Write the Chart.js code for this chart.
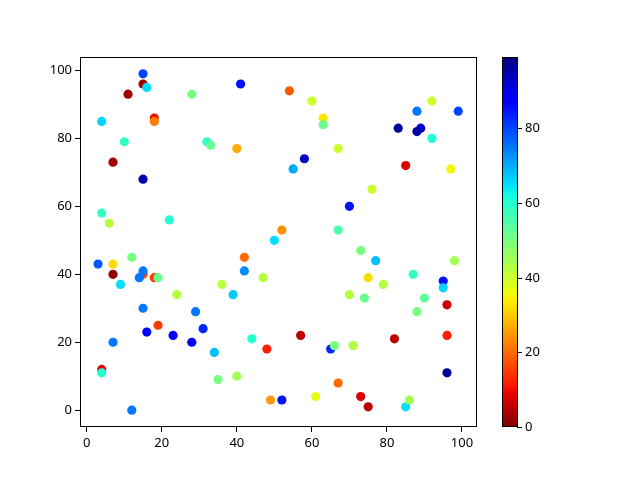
<!DOCTYPE html>
<html>
<head>
<meta charset="utf-8">
<script src="https://cdn.jsdelivr.net/npm/chart.js@4"></script>
<style>
  body { margin: 0; background: #fff; }
</style>
</head>
<body>
<canvas id="scatter-canvas" width="640" height="480"></canvas>
<script>
// values
const xs = [15, 15, 16, 11, 28, 4, 18, 18, 10, 32, 33, 7, 15, 4, 6, 22,
  41, 54, 60, 63, 63, 40, 67, 58, 55, 52, 67, 50,
  92, 88, 99, 83, 89, 88, 92, 85, 97, 76, 70,
  3, 7, 12, 7, 9, 15, 15, 14, 18, 19, 24, 15, 29, 19, 16, 23, 31, 28, 7, 34, 4, 4, 35, 12,
  42, 42, 36, 47, 39, 44, 48, 57, 65, 66, 40, 67, 49, 52, 61,
  73, 77, 98, 87, 75, 79, 70, 74, 95, 95, 90, 88, 96, 82, 96, 71, 96, 73, 75, 85, 86]
const ys = [99, 96, 95, 93, 93, 85, 86, 85, 79, 79, 78, 73, 68, 58, 55, 56,
  96, 94, 91, 86, 84, 77, 77, 74, 71, 53, 53, 50,
  91, 88, 88, 83, 83, 82, 80, 72, 71, 65, 60,
  43, 43, 45, 40, 37, 40, 41, 39, 39, 39, 34, 30, 29, 25, 23, 22, 24, 20, 20, 17, 12, 11, 9, 0,
  45, 41, 37, 39, 34, 21, 18, 22, 18, 19, 10, 8, 3, 3, 4,
  47, 44, 44, 40, 39, 37, 34, 33, 38, 36, 33, 29, 31, 21, 22, 19, 11, 4, 1, 1, 3]
const cs = [80, 3, 65, 3, 50, 66, 10, 22, 58, 58, 52, 3, 95, 58, 42, 60,
  85, 18, 40, 33, 52, 27, 40, 93, 70, 24, 55, 65,
  40, 75, 80, 97, 92, 96, 60, 8, 35, 40, 85,
  78, 32, 50, 2, 65, 16, 75, 75, 15, 52, 42, 75, 75, 15, 88, 87, 83, 87, 75, 68, 8, 60, 50, 75,
  20, 73, 42, 42, 67, 60, 12, 5, 83, 50, 45, 20, 25, 85, 37,
  50, 68, 45, 58, 32, 43, 43, 52, 85, 66, 53, 50, 7, 5, 12, 43, 97, 8, 5, 65, 45]
const xTicks = [0, 20, 40, 60, 80, 100]
const yTicks = [0, 20, 40, 60, 80, 100]
const cbTicks = [0, 20, 40, 60, 80]
const cMin = 0
const cMax = 99

// jet colormap, reversed
function interp(pts, t) {
  for (let i = 1; i < pts.length; i++) {
    if (t <= pts[i][0]) {
      const [x0, y0] = pts[i - 1]
      const [x1, y1] = pts[i]
      return y0 + (y1 - y0) * (t - x0) / (x1 - x0)
    }
  }
  return pts[pts.length - 1][1]
}
function jetR(v) {
  let t = 1 - (v - cMin) / (cMax - cMin)
  t = Math.max(0, Math.min(1, t))
  const r = interp([[0, 0], [0.35, 0], [0.66, 1], [0.89, 1], [1, 0.5]], t)
  const g = interp([[0, 0], [0.125, 0], [0.375, 1], [0.64, 1], [0.91, 0], [1, 0]], t)
  const b = interp([[0, 0.5], [0.11, 1], [0.34, 1], [0.65, 0], [1, 0]], t)
  return `rgb(${Math.round(r * 255)},${Math.round(g * 255)},${Math.round(b * 255)})`
}

const font = { family: 'Noto Sans', size: 13 }

// frame + colorbar
const framePlugin = {
  id: 'frame',
  afterDraw(chart) {
    const ctx = chart.ctx
    const a = chart.chartArea
    ctx.save()
    ctx.strokeStyle = '#000'
    ctx.lineWidth = 1
    ctx.strokeRect(a.left + 0.5, a.top + 0.5, a.right - a.left - 1, a.bottom - a.top - 1)

    // colorbar
    const cbLeft = 502, cbRight = 518
    const top = a.top, bottom = a.bottom
    const h = bottom - top
    for (let i = 0; i < h; i++) {
      const v = cMin + (cMax - cMin) * (i + 0.5) / h
      ctx.fillStyle = jetR(v)
      ctx.fillRect(cbLeft, bottom - i - 1, cbRight - cbLeft, 1)
    }
    ctx.strokeRect(cbLeft + 0.5, top + 0.5, cbRight - cbLeft - 1, h - 1)
    ctx.fillStyle = '#000'
    ctx.font = `${font.size}px ${font.family}`
    ctx.textBaseline = 'middle'
    ctx.textAlign = 'left'
    cbTicks.forEach((v) => {
      const y = Math.round(bottom - (v - cMin) / (cMax - cMin) * h) + 0.5
      ctx.beginPath()
      ctx.moveTo(cbRight - 1, y)
      ctx.lineTo(cbRight + 4, y)
      ctx.stroke()
      ctx.fillText(String(v), cbRight + 7, y)
    })
    ctx.restore()
  },
}

const scatterCanvas = new Chart(document.getElementById('scatter-canvas'), {
  type: 'scatter',
  data: {
    datasets: [
      {
        data: xs.map((x, i) => ({ x: x, y: ys[i] })),
        backgroundColor: cs.map((c) => jetR(c)),
        borderWidth: 0,
        pointRadius: 4.6,
        pointHoverRadius: 4.6,
      },
    ],
  },
  options: {
    responsive: false,
    animation: false,
    events: [],
    layout: { padding: { top: 57, right: 163, left: 0, bottom: 0 } },
    plugins: {
      legend: { display: false },
      tooltip: { enabled: false },
    },
    scales: {
      x: {
        type: 'linear',
        min: -1.8,
        max: 104,
        afterBuildTicks: (scale) => {
          scale.ticks = xTicks.map((v) => ({ value: v }))
        },
        afterFit: (scale) => {
          scale.height = 53
        },
        grid: { drawOnChartArea: false, tickLength: 5, color: '#000', tickColor: '#000' },
        border: { display: false },
        ticks: { color: '#000', font: font, padding: 3, maxRotation: 0 },
      },
      y: {
        type: 'linear',
        min: -4.95,
        max: 103.95,
        afterBuildTicks: (scale) => {
          scale.ticks = yTicks.map((v) => ({ value: v }))
        },
        afterFit: (scale) => {
          scale.width = 80
        },
        grid: { drawOnChartArea: false, tickLength: 5, color: '#000', tickColor: '#000' },
        border: { display: false },
        ticks: { color: '#000', font: font, padding: 3 },
      },
    },
  },
  plugins: [framePlugin],
})
</script>
</body>
</html>
